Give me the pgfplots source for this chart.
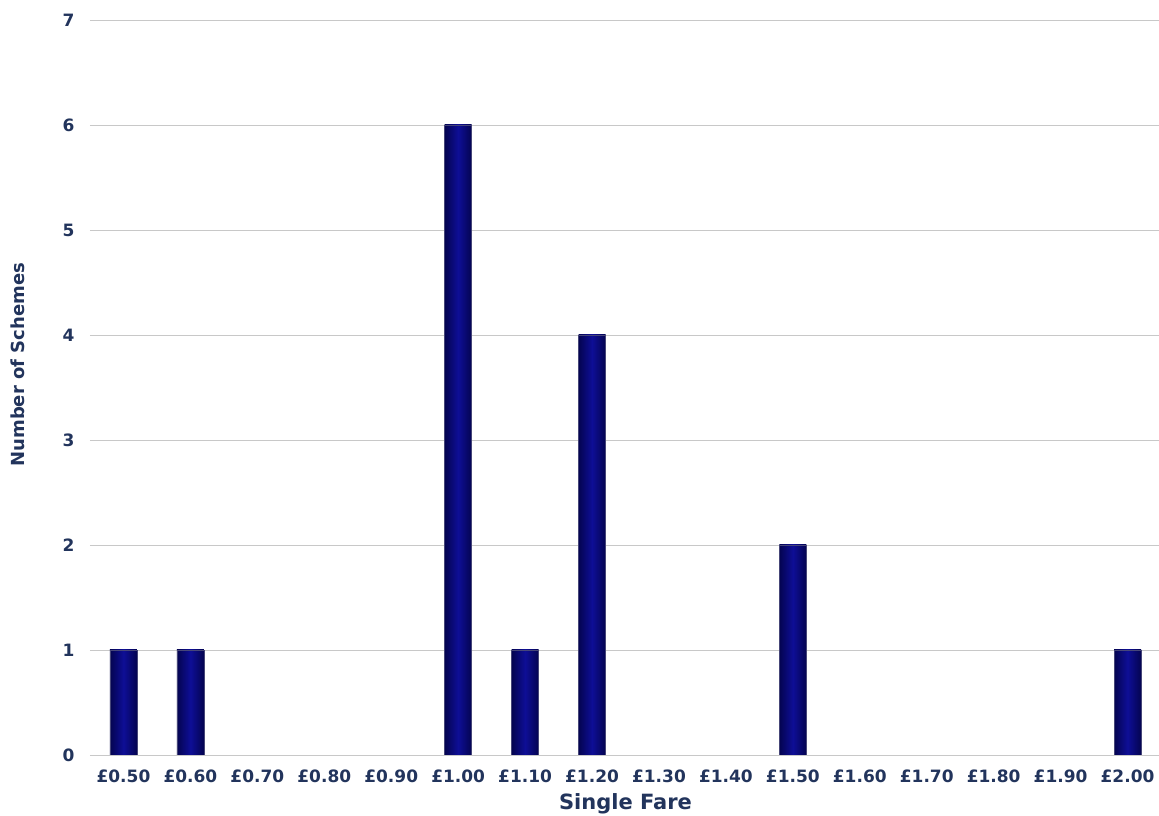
\documentclass[border=0pt]{standalone}
\usepackage{fontspec}
\setmainfont{DejaVu Sans}
\usepackage{pgfplots}
\pgfplotsset{compat=1.18}
\definecolor{txt}{RGB}{34,52,92}
\definecolor{barmid}{RGB}{14,14,150}
\definecolor{baredge}{RGB}{4,4,80}
\definecolor{gridc}{RGB}{200,200,200}
\definecolor{barline}{RGB}{70,70,120}
\begin{document}
\begin{tikzpicture}
\begin{axis}[
  scale only axis,
  width=1071pt, height=735pt,
  xmin=-0.5, xmax=15.5,
  ymin=0, ymax=7,
  ytick={0,1,...,7},
  xtick={0,1,...,15},
  xticklabels={£0.50,£0.60,£0.70,£0.80,£0.90,£1.00,£1.10,£1.20,£1.30,£1.40,£1.50,£1.60,£1.70,£1.80,£1.90,£2.00},
  axis line style={draw=none},
  major tick length=0pt,
  ymajorgrids, xmajorgrids=false,
  grid style={draw=gridc, line width=0.9pt},
  /pgf/number format/assume math mode=true,
  tick label style={font=\fontsize{17}{20}\selectfont\bfseries, text=txt},
  yticklabel style={anchor=east, xshift=-12pt},
  xticklabel style={anchor=center, yshift=-21pt},
  xlabel={Single Fare},
  ylabel={Number of Schemes},
  xlabel style={font=\fontsize{21}{24}\selectfont\bfseries, text=txt, at={(axis description cs:0.5,0)}, anchor=center, yshift=-49pt},
  ylabel style={font=\fontsize{18}{21}\selectfont\bfseries, text=txt, at={(axis description cs:-0.0672,0.531)}, anchor=center, rotate=0},
  ybar, bar width=27pt, bar shift=0pt,
  mybar/.style={draw=barline, line width=0.6pt, left color=baredge, right color=baredge, middle color=barmid},
]
\addplot[mybar] coordinates {(0,1)};
\addplot[mybar] coordinates {(1,1)};
\addplot[mybar] coordinates {(5,6)};
\addplot[mybar] coordinates {(6,1)};
\addplot[mybar] coordinates {(7,4)};
\addplot[mybar] coordinates {(10,2)};
\addplot[mybar] coordinates {(15,1)};
\end{axis}
\pgfresetboundingbox
\path ([xshift=-90pt,yshift=-61pt]current axis.south west) rectangle ([xshift=-2pt,yshift=20pt]current axis.north east);
\end{tikzpicture}
\end{document}
